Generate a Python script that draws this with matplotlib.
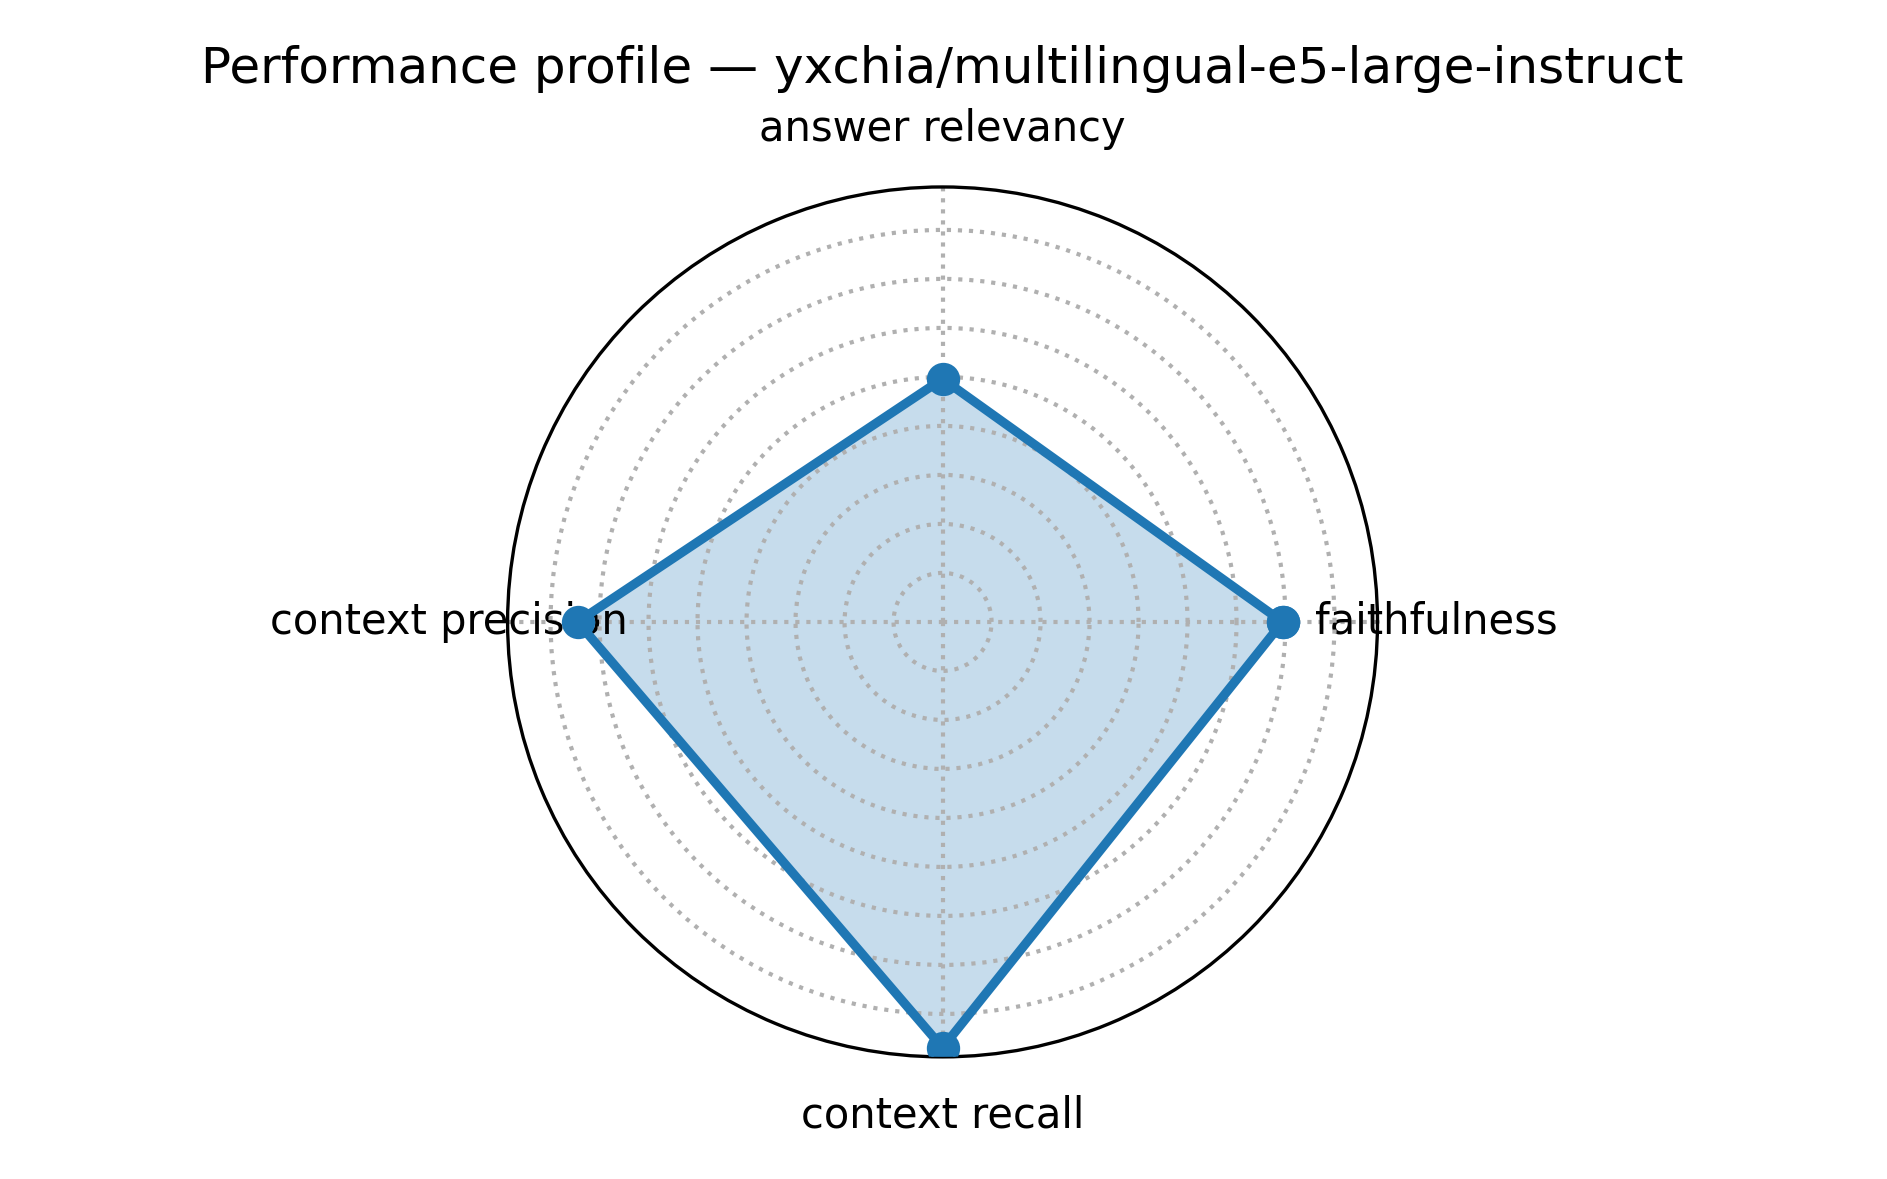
import matplotlib
matplotlib.use("Agg")
import matplotlib.pyplot as plt
import numpy as np

# scores per metric
metrics = ["faithfulness", "answer relevancy", "context precision", "context recall"]
scores = [0.694, 0.496, 0.745, 0.869]
model_name = "yxchia/multilingual-e5-large-instruct"

angles = np.linspace(0, 2 * np.pi, len(metrics), endpoint=False)
angles_closed = np.concatenate([angles, angles[:1]])
scores_closed = scores + scores[:1]

fig = plt.figure(figsize=(6.29, 3.93), dpi=300)
ax = fig.add_axes([0.269, 0.1035, 0.461, 0.738], projection="polar")

ax.plot(angles_closed, scores_closed, "o-", color="#1f77b4", linewidth=2.2, markersize=7, zorder=3)
ax.fill(angles_closed, scores_closed, color="#1f77b4", alpha=0.25)

ax.set_xticks(angles)
ax.set_xticklabels(metrics, fontsize=10)
ax.set_yticklabels([])
# radial limit: data max plus the usual 5% margin of the data range
rmax = max(scores) + 0.05 * (max(scores) - min(scores))
ax.set_ylim(0, rmax)
ax.set_yticks(np.arange(0.1, rmax, 0.1))
ax.grid(True, linestyle=":", linewidth=1.0, color="#b0b0b0")

ax.set_title(f"Performance profile — {model_name}", fontsize=12)

fig.savefig("out.png", dpi=300)
